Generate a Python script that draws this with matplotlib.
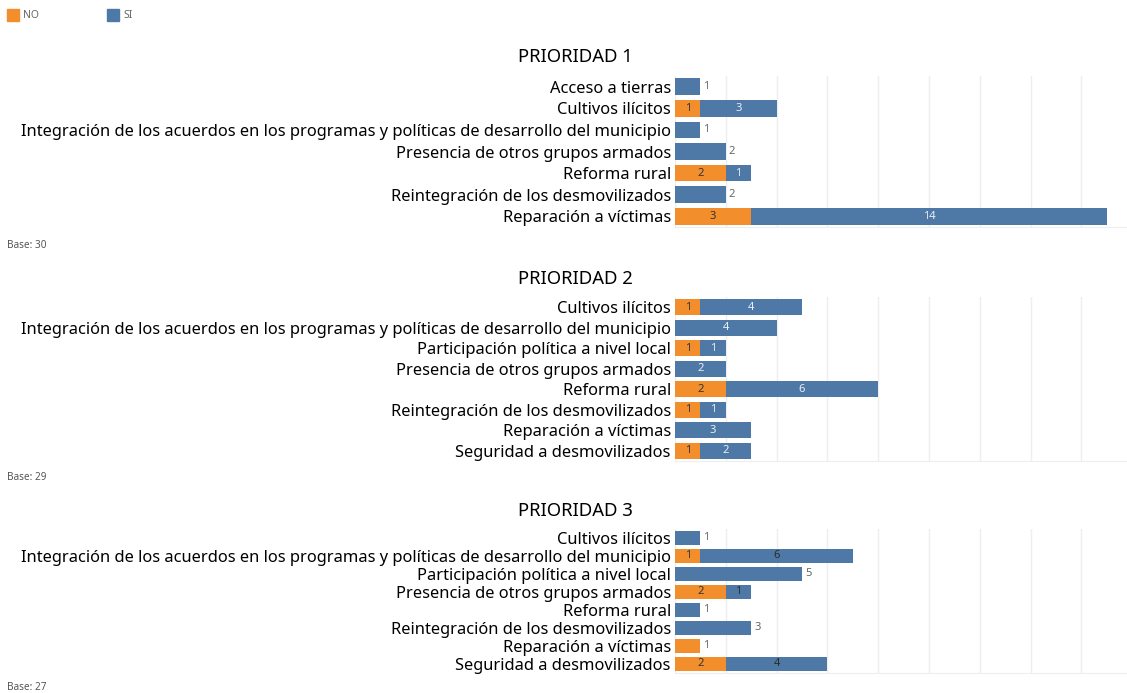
import matplotlib
matplotlib.use("Agg")
from matplotlib import pyplot as plt
from matplotlib.patches import Rectangle

plt.rcParams['font.family'] = ['Noto Sans', 'DejaVu Sans']

NARANJA = '#F28E2B'
AZUL = '#4E79A7'

titulos = ['PRIORIDAD 1', 'PRIORIDAD 2', 'PRIORIDAD 3']
bases = ['Base: 30', 'Base: 29', 'Base: 27']

cat1 = ['Acceso a tierras', 'Cultivos ilícitos',
        'Integración de los acuerdos en los programas y políticas de desarrollo del municipio',
        'Presencia de otros grupos armados', 'Reforma rural',
        'Reintegración de los desmovilizados', 'Reparación a víctimas']
no1 = [0, 1, 0, 0, 2, 0, 3]
si1 = [1, 3, 1, 2, 1, 2, 14]

cat2 = ['Cultivos ilícitos',
        'Integración de los acuerdos en los programas y políticas de desarrollo del municipio',
        'Participación política a nivel local', 'Presencia de otros grupos armados',
        'Reforma rural', 'Reintegración de los desmovilizados',
        'Reparación a víctimas', 'Seguridad a desmovilizados']
no2 = [1, 0, 1, 0, 2, 1, 0, 1]
si2 = [4, 4, 1, 2, 6, 1, 3, 2]

cat3 = ['Cultivos ilícitos',
        'Integración de los acuerdos en los programas y políticas de desarrollo del municipio',
        'Participación política a nivel local', 'Presencia de otros grupos armados',
        'Reforma rural', 'Reintegración de los desmovilizados',
        'Reparación a víctimas', 'Seguridad a desmovilizados']
no3 = [0, 1, 0, 2, 0, 0, 1, 2]
si3 = [1, 6, 5, 1, 1, 3, 0, 4]

W, H = 1127, 693
fig = plt.figure(figsize=(W / 100, H / 100), dpi=100)

def px_axes(x0, y0, x1, y1):
    # rectangulo en pixeles (desde arriba) -> coordenadas de figura
    return fig.add_axes([x0 / W, 1 - y1 / H, (x1 - x0) / W, (y1 - y0) / H])

# posiciones de cada panel en pixeles: arriba, abajo, y del titulo, y de la base
paneles = [
    (cat1, no1, si1, 76, 227, 57, 245, False, '#e8eef5'),
    (cat2, no2, si2, 297, 461, 279, 477, True, '#e8eef5'),
    (cat3, no3, si3, 529, 673, 511, 688, False, '#2b2b2b'),
]

xmax = (W - 675) / 25.4

for k, (cats, no, si, top, bot, ytit, ybase, dentro, col_si) in enumerate(paneles):
    ax = px_axes(675, top, W, bot)
    y = list(range(len(cats)))
    ax.barh(y, no, height=0.78, color=NARANJA, zorder=2)
    ax.barh(y, si, left=no, height=0.78, color=AZUL, zorder=2)
    ax.set_xlim(0, xmax)
    ax.set_ylim(len(cats) - 0.5, -0.5)
    ax.set_yticks(y)
    ax.set_yticklabels(cats, fontsize=11.85, color='black')
    ax.tick_params(axis='y', length=0, pad=3)
    ax.set_xticks(range(0, 18, 2))
    ax.tick_params(axis='x', length=0, labelbottom=False)
    ax.grid(axis='x', color='#eeeeee', linewidth=1, zorder=0)
    for s in ['top', 'right', 'left']:
        ax.spines[s].set_visible(False)
    ax.spines['bottom'].set_color('#eeeeee')

    for i in y:
        n, s = no[i], si[i]
        if n and s:
            ax.text(n / 2, i, str(n), ha='center', va='center', fontsize=8, color='#333333')
            ax.text(n + s / 2, i, str(s), ha='center', va='center', fontsize=8, color=col_si)
        elif dentro:
            v = n or s
            c = '#333333' if n else col_si
            ax.text(v / 2, i, str(v), ha='center', va='center', fontsize=8, color=c)
        else:
            v = n + s
            ax.text(v + 0.12, i, str(v), ha='left', va='center', fontsize=8, color='#666666')

    fig.text(575 / W, 1 - ytit / H, titulos[k], ha='center', va='center', fontsize=13.3, color='black')
    fig.text(7 / W, 1 - ybase / H, bases[k], ha='left', va='center', fontsize=7.2, color='#555555')

# leyenda arriba
fig.patches.append(Rectangle((7 / W, 1 - 21 / H), 12 / W, 12 / H, color=NARANJA,
                             transform=fig.transFigure, figure=fig))
fig.text(23 / W, 1 - 15.5 / H, 'NO', ha='left', va='center', fontsize=7.5, color='#666666')
fig.patches.append(Rectangle((107 / W, 1 - 21 / H), 12 / W, 12 / H, color=AZUL,
                             transform=fig.transFigure, figure=fig))
fig.text(123 / W, 1 - 15.5 / H, 'SI', ha='left', va='center', fontsize=7.5, color='#666666')

fig.savefig('out.png', dpi=100)
